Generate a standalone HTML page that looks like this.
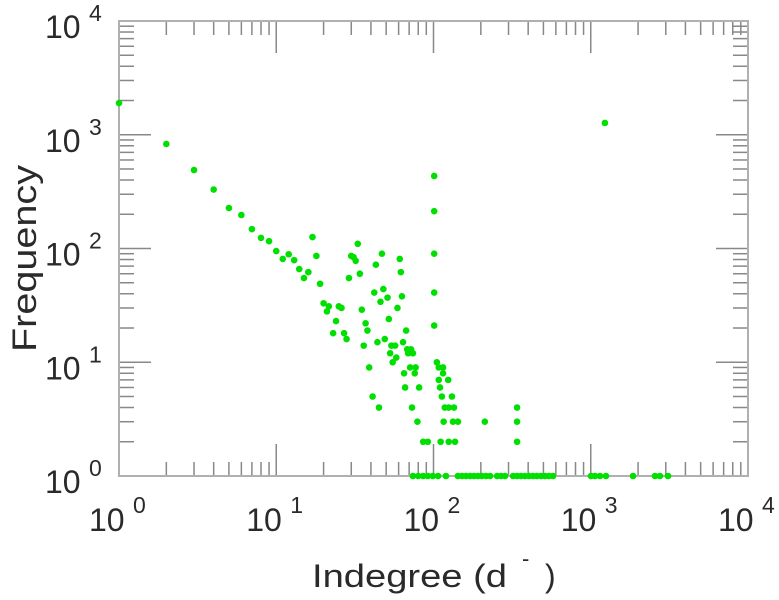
<!DOCTYPE html>
<html><head><meta charset="utf-8">
<style>
html,body{margin:0;padding:0;background:#fff;}
svg{display:block;font-family:"Liberation Sans",sans-serif;}
</style></head>
<body>
<svg id="chart" width="779" height="600" viewBox="0 0 779 600" xmlns="http://www.w3.org/2000/svg">
  <g id="ticks"></g>
  <rect x="119" y="21" width="629" height="455" fill="none" stroke="#b0b0b0" stroke-width="2"/>
  <g id="labels" fill="#2a2a2a"></g>
  <g id="points" fill="#00e000"></g>
  <text transform="translate(36,352) rotate(-90)" font-size="34" fill="#2a2a2a" textLength="187" lengthAdjust="spacingAndGlyphs">Frequency</text>
  <g fill="#2a2a2a">
    <text x="312" y="587" font-size="32" textLength="195" lengthAdjust="spacingAndGlyphs">Indegree (d</text>
    <text x="522" y="566" font-size="22">-</text>
    <text x="545" y="587" font-size="32">)</text>
  </g>
</svg>
<script>
const xValues = [1,2,3,4,5,6,7,8,9,10,11,12,13,14,15,16,17,18,19,20,21.6,21,25,26,24,23,27,28,33,30,31,32,34,29,35,37,38,36,39,41,45,47,43,42,48,51,46,52,44,49,61,62,63,59,67,64,54,57,53,58,55,68,72,74,69,71,77,65,76,66,81,73,79,86,92,101,101,101,101,101,105,108,115,115,108,124,110,113,131,118,125,135,116,133,143,111,125,137,212,340,340,340,1230,
74,80,86,92,99,107,120,143,152,161,171,181,192,203,216,229,254,269,285,321,340,360,382,405,430,455,483,512,542,575,1004,1064,1145,1250,1858,2563,2755,3100];
const yValues = [1900,830,490,330,227,197,148,124,116,95,81,89,79,66,55,62,126,86,49,33,31,28,31,30,23,18,18,16,110,86,84,78,60,55,29,22,19,14,9,5,4,90,72,41,44,37,34,24,15,16,81,62,38,30,19,15,14,14,12,11,10,13,13,12,12,9,9,8,8,6,6,4,3,2,2,434,213,90,41,21,10,9,9,8,7,7,6,5,5,4,4,4,3,3,3,2,2,2,3,4,3,2,1270,
1,1,1,1,1,1,1,1,1,1,1,1,1,1,1,1,1,1,1,1,1,1,1,1,1,1,1,1,1,1,1,1,1,1,1,1,1,1];
const decadeExponents = [0,1,2,3,4];
const tickBase = ["10","10","10","10","10"];

const X0=119, X1=748, Y0=476, Y1=21;
function xs(v){return X0 + (Math.log10(v)-0)/4*(X1-X0);}
function ys(v){return Y0 - (Math.log10(v)-0)/4*(Y0-Y1);}
const NS="http://www.w3.org/2000/svg";
const tg=document.getElementById('ticks');
function line(x1,y1,x2,y2,name){
  const l=document.createElementNS(NS,'line');
  l.setAttribute('x1',x1);l.setAttribute('y1',y1);l.setAttribute('x2',x2);l.setAttribute('y2',y2);
  l.setAttribute('stroke','#888');l.setAttribute('stroke-width','1.5');
  
  
  tg.appendChild(l);
}
for(let d=0; d<4; d++){
  for(let m=1;m<=9;m++){
    const v=Math.pow(10,d)*m;
    const major = m===1;
    const L = major?32:14;
    const Ly = major?32:15;
    if(!(major && d===0)){
      const x=xs(v);
      line(x,Y0,x,Y0-L,'x-tick');
      line(x,Y1,x,Y1+L,'x-tick-top');
      const y=ys(v);
      line(X0,y,X0+Ly,y,'y-tick');
      line(X1,y,X1-Ly,y,'y-tick-right');
    }
  }
}
const lg=document.getElementById('labels');
decadeExponents.forEach((e,i)=>{
  const v=Math.pow(10,e);
  const x=xs(v);
  const t=document.createElementNS(NS,'text');
  t.setAttribute('x',x-30);t.setAttribute('y',531);t.setAttribute('font-size','32');
  t.textContent=tickBase[i];
  
  
  lg.appendChild(t);
  const s=document.createElementNS(NS,'text');
  s.setAttribute('x',x+14);s.setAttribute('y',513);s.setAttribute('font-size','23');
  s.textContent=String(e);
  
  
  lg.appendChild(s);
  const y=ys(v);
  const t2=document.createElementNS(NS,'text');
  t2.setAttribute('x',45);t2.setAttribute('y',y+17);t2.setAttribute('font-size','32');
  t2.textContent=tickBase[i];
  
  
  lg.appendChild(t2);
  const s2=document.createElementNS(NS,'text');
  s2.setAttribute('x',89);s2.setAttribute('y',y);s2.setAttribute('font-size','23');
  s2.textContent=String(e);
  
  
  lg.appendChild(s2);
});
const pg=document.getElementById('points');
for(let i=0;i<xValues.length;i++){
  const c=document.createElementNS(NS,'circle');
  c.setAttribute('cx',xs(xValues[i]));c.setAttribute('cy',ys(yValues[i]));c.setAttribute('r','3.3');
  
  
  pg.appendChild(c);
}
</script>
</body></html>
